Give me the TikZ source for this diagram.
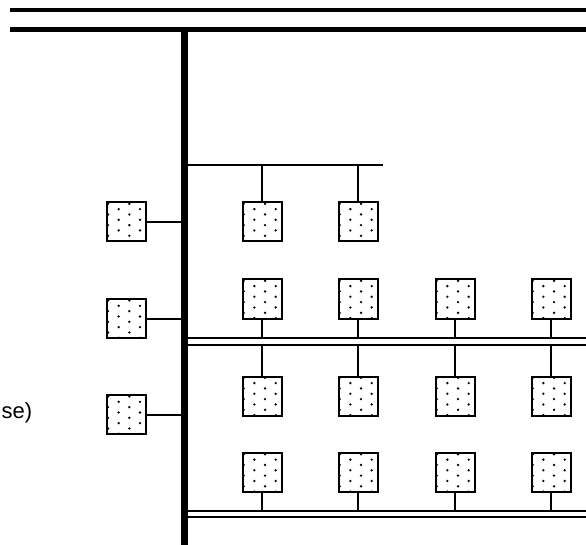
\documentclass[tikz,border=0pt]{standalone}
\usepackage{fontspec}
\setmainfont{Liberation Sans}
\begin{document}
\begin{tikzpicture}[x=1pt,y=-1pt,
  dotbox/.style={draw=black, line width=2pt, fill=white, minimum size=39pt, inner sep=0pt,
    path picture={
      \foreach \r in {0,...,7}{
        \foreach \c in {0,...,3}{
          \pgfmathtruncatemacro\sm{mod(\r+\c,2)}
          \ifnum\sm=0
            \fill[black] ([shift={(\c*10.67+1.2,\r*5.33+1.3)}]path picture bounding box.north west) circle[radius=1.3pt];
          \fi
        }
      }
    }},
  heavy/.style={line width=4.5pt},
  bar/.style={line width=7pt},
  busline/.style={line width=1.9pt},
  link/.style={line width=2pt},
  lbl/.style={font=\fontsize{22}{26}\selectfont, inner sep=0pt}
]
\useasboundingbox (0,0) rectangle (586,545);

% trunk lines
\coordinate (t1a) at (10,10);    \coordinate (t1b) at (586,10);
\coordinate (t2a) at (10,29.5);  \coordinate (t2b) at (586,29.5);
\draw[heavy] (t1a) -- (t1b);
\draw[heavy] (t2a) -- (t2b);

% vertical backbone
\coordinate (vtop) at (184.5,29.5); \coordinate (vbot) at (184.5,545);
\draw[bar] (vtop) -- (vbot);
\coordinate (barL) at (181,0);

% branch line
\coordinate (bra) at (188,165); \coordinate (brb) at (383,165);
\draw[link] (bra) -- (brb);

% buses
\coordinate (b1ta) at (188,338.3); \coordinate (b1tb) at (586,338.3);
\coordinate (b1ba) at (188,345.3); \coordinate (b1bb) at (586,345.3);
\coordinate (b2ta) at (188,510.7); \coordinate (b2tb) at (586,510.7);
\coordinate (b2ba) at (188,517.3); \coordinate (b2bb) at (586,517.3);
\draw[busline] (b1ta) -- (b1tb);
\draw[busline] (b1ba) -- (b1bb);
\draw[busline] (b2ta) -- (b2tb);
\draw[busline] (b2ba) -- (b2bb);

% left boxes
\node[dotbox] (L1) at (126.3,222) {};
\node[dotbox] (L2) at (126.3,318.7) {};
\node[dotbox] (L3) at (126.3,414.7) {};
\foreach \n in {L1,L2,L3} \draw[link] (\n.east) -- (\n.east -| barL);

% row 1
\node[dotbox] (R11) at (262,222) {};
\node[dotbox] (R12) at (358,222) {};
\foreach \n in {R11,R12} \draw[link] (\n.north) -- (\n.north |- bra);

% row 2
\node[dotbox] (R21) at (262,299) {};
\node[dotbox] (R22) at (358,299) {};
\node[dotbox] (R23) at (455,299) {};
\node[dotbox] (R24) at (551,299) {};
\foreach \n in {R21,R22,R23,R24} \draw[link] (\n.south) -- (\n.south |- b1ta);

% row 3
\node[dotbox] (R31) at (262,396) {};
\node[dotbox] (R32) at (358,396) {};
\node[dotbox] (R33) at (455,396) {};
\node[dotbox] (R34) at (551,396) {};
\foreach \n in {R31,R32,R33,R34} \draw[link] (\n.north) -- (\n.north |- b1ba);

% row 4
\node[dotbox] (R41) at (262,472.5) {};
\node[dotbox] (R42) at (358,472.5) {};
\node[dotbox] (R43) at (455,472.5) {};
\node[dotbox] (R44) at (551,472.5) {};
\foreach \n in {R41,R42,R43,R44} \draw[link] (\n.south) -- (\n.south |- b2ta);

% clipped label
\node[lbl, anchor=base east] (txt) at (32.5,418) {se)};
\end{tikzpicture}
\end{document}
